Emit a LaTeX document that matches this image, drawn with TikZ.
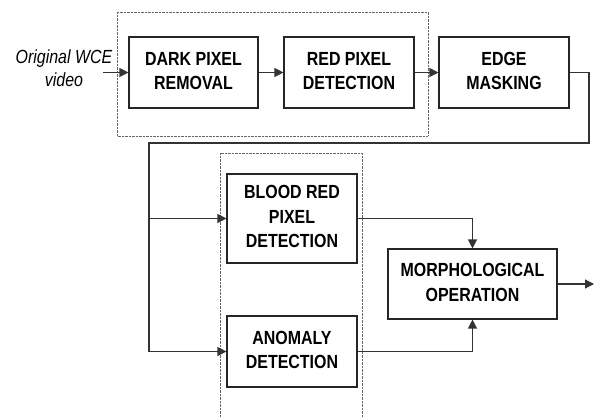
\documentclass[tikz,border=0pt]{standalone}
\usepackage{fontspec}
\usepackage{graphicx}
\setmainfont{Liberation Sans}
\newcommand{\sqz}[1]{\scalebox{0.84}[1]{\begin{tabular}{@{}c@{}}#1\end{tabular}}}
\usetikzlibrary{arrows.meta}
\begin{document}
\begin{tikzpicture}[x=1pt,y=-1pt,
  stepbox/.style={draw=black!85, line width=1.1pt, inner sep=0pt, align=center,
     font=\bfseries\fontsize{19}{24.5}\selectfont},
  conn/.style={draw=black!80, line width=1.2pt, -{Triangle[length=9pt,width=9pt]}},
  line/.style={draw=black!80, line width=1.2pt},
  dotbox/.style={draw=black!60, line width=0.8pt, dash pattern=on 0.8pt off 0.6pt}]
\useasboundingbox (0,0) rectangle (595,417);
% group outlines
\draw[dotbox] (117,12) rectangle (428,136);
\draw[dotbox] (220,417) -- (220,153) -- (362,153) -- (362,417);
% nodes
\node[stepbox, minimum width=129pt, minimum height=71pt] (dark) at (193.5,72.5) {\sqz{DARK PIXEL\\REMOVAL}};
\node[stepbox, minimum width=130pt, minimum height=71pt] (red) at (349,72.5) {\sqz{RED PIXEL\\DETECTION}};
\node[stepbox, minimum width=130pt, minimum height=71pt] (edge) at (504,72.5) {\sqz{EDGE\\MASKING}};
\node[stepbox, minimum width=130pt, minimum height=89pt] (blood) at (292,218.5) {\sqz{BLOOD RED\\PIXEL\\DETECTION}};
\node[stepbox, minimum width=130pt, minimum height=71pt] (anom) at (292,351.5) {\sqz{ANOMALY\\DETECTION}};
\node[stepbox, minimum width=169pt, minimum height=70pt] (morph) at (472.5,284) {\sqz{MORPHOLOGICAL\\OPERATION}};
\node[align=center, inner sep=0pt, font=\itshape\fontsize{19}{23}\selectfont] (input) at (64,70) {\sqz{Original WCE\\video}};
% coordinates
\coordinate (in) at (103,72.5);
\coordinate (r1) at (589,72.5);
\coordinate (r2) at (589,143);
\coordinate (l1) at (149,143);
\coordinate (lb) at (149,218.5);
\coordinate (la) at (149,351.5);
\coordinate (out) at (594,284);
% connectors
\draw[conn] (in) -- (dark.west);
\draw[conn] (dark) -- (red);
\draw[conn] (red) -- (edge);
\draw[line] (edge.east) -- (r1) -- (r2) -- (l1) -- (la);
\draw[conn] (la) -- (anom.west);
\draw[conn] (lb) -- (blood.west);
\draw[conn] (blood.east) -| (morph.north);
\draw[conn] (anom.east) -| (morph.south);
\draw[conn] (morph.east) -- (out);
\end{tikzpicture}
\end{document}
